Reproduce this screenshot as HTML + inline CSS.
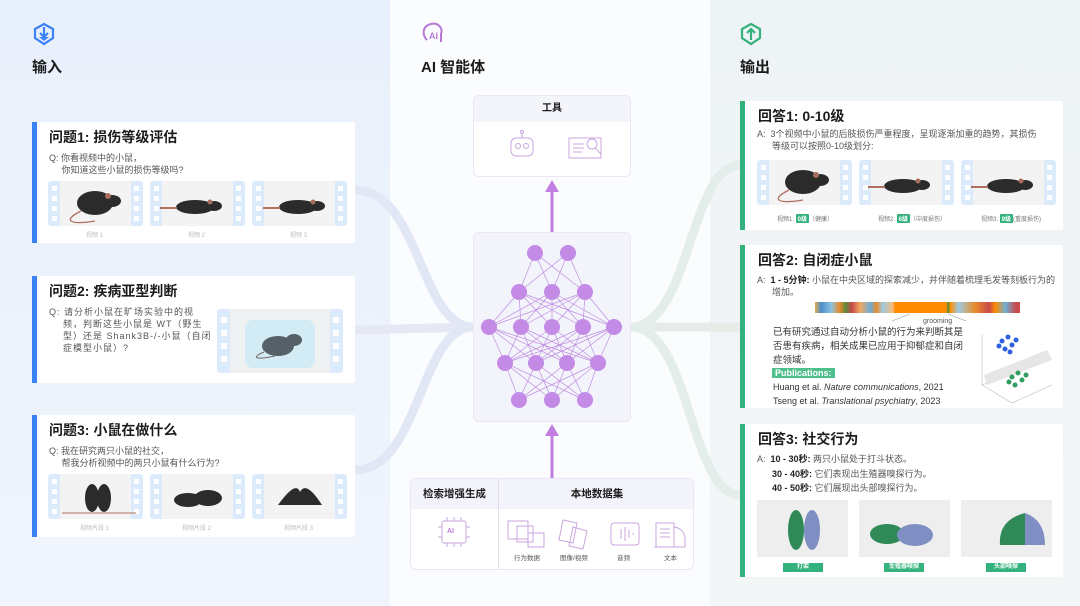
<!DOCTYPE html>
<html><head><meta charset="utf-8">
<style>
*{margin:0;padding:0;box-sizing:border-box}
body{width:1080px;height:606px;overflow:hidden;background:#f6f8fd;font-family:"Liberation Sans","Noto Sans CJK SC",sans-serif;color:#1c1c1c;position:relative}
.a{position:absolute}
.card{position:absolute;background:#fff;border-radius:2px}
.bb{position:absolute;left:0;top:0;bottom:0;width:5px;background:#3b82f6}
.gb{position:absolute;left:0;top:0;bottom:0;width:5px;background:#34b27d}
.t{position:absolute;font-weight:bold;font-size:14px;white-space:nowrap}
.s{position:absolute;font-size:9px;color:#555;white-space:nowrap;line-height:12px}
.cap{position:absolute;font-size:6px;color:#bbb;white-space:nowrap}
.gt{display:inline-block;background:#34b27d;color:#fff;font-weight:bold;padding:0 2px;border-radius:1px}
.tag{position:absolute;background:#34b27d;color:#fff;font-size:6px;text-align:center;height:9px;line-height:9px;font-weight:bold}
</style></head><body>
<div class="a" style="left:0;top:0;width:390px;height:606px;background:linear-gradient(#e8f0fb,#f0f5fd)"></div>
<div class="a" style="left:710px;top:0;width:370px;height:606px;background:linear-gradient(#eef3f6,#f3f6f7)"></div>
<div class="a" style="left:390px;top:0;width:320px;height:606px;background:#fbfcfe"></div>

<svg class="a" style="left:0;top:0" width="1080" height="606">
 <g fill="none" stroke-width="9" stroke-linecap="round">
  <path d="M355 190 C420 190,420 327,473 327" stroke="#e2e7f6"/>
  <path d="M355 330 L473 327" stroke="#e6e8f5"/>
  <path d="M355 470 C420 470,420 327,473 327" stroke="#e2e7f6"/>
  <path d="M631 327 C690 327,690 165,740 165" stroke="#e3ede9"/>
  <path d="M631 327 L740 327" stroke="#e6ede9"/>
  <path d="M631 327 C690 327,690 495,740 495" stroke="#e3ede9"/>
 </g>
</svg>

<!-- headers -->
<svg class="a" style="left:33px;top:22px" width="22" height="24"><path d="M11 2 L20 7 V16 L11 22 L2 16 V7 Z" fill="none" stroke="#3b82f6" stroke-width="2.2"/><path d="M11 5 V14 M7 11 L11 15 L15 11" stroke="#3b82f6" stroke-width="2.2" fill="none"/><path d="M6 15 L11 19 L16 15Z" fill="#3b82f6"/></svg>
<div class="t" style="left:32px;top:56px;font-size:15px">输入</div>
<svg class="a" style="left:421px;top:20px" width="24" height="26"><path d="M6 20 C1 15,1 6,10 4 C18 2,22 9,20 14 L20 22" fill="none" stroke="#b67ad4" stroke-width="2"/><text x="8" y="19" font-size="9" font-weight="bold" fill="#b67ad4" font-family="Liberation Sans">AI</text></svg>
<div class="t" style="left:421px;top:56px;font-size:15px">AI 智能体</div>
<svg class="a" style="left:740px;top:22px" width="22" height="24"><path d="M11 2 L20 7 V16 L11 22 L2 16 V7 Z" fill="none" stroke="#34b27d" stroke-width="2.2"/><path d="M11 18 V8 M7 11 L11 7 L15 11" stroke="#34b27d" stroke-width="2.2" fill="none"/></svg>
<div class="t" style="left:740px;top:56px;font-size:15px">输出</div>

<!-- left cards -->
<div class="card" style="left:32px;top:122px;width:323px;height:121px"><div class="bb"></div>
 <div class="t" style="left:17px;top:5px">问题1: 损伤等级评估</div>
 <div class="s" style="left:17px;top:30px">Q: 你看视频中的小鼠，<br>&nbsp;&nbsp;&nbsp;&nbsp;&nbsp;你知道这些小鼠的损伤等级吗?</div>
</div>
<div class="card" style="left:32px;top:276px;width:323px;height:107px"><div class="bb"></div>
 <div class="t" style="left:17px;top:5px">问题2: 疾病亚型判断</div>
 <div class="s" style="left:17px;top:30px;letter-spacing:1px">Q: 请分析小鼠在旷场实验中的视<br>&nbsp;&nbsp;&nbsp;&nbsp;频，判断这些小鼠是 WT（野生<br>&nbsp;&nbsp;&nbsp;&nbsp;型）还是 Shank3B-/-小鼠（自闭<br>&nbsp;&nbsp;&nbsp;&nbsp;症模型小鼠）?</div>
</div>
<div class="card" style="left:32px;top:415px;width:323px;height:122px"><div class="bb"></div>
 <div class="t" style="left:17px;top:5px">问题3: 小鼠在做什么</div>
 <div class="s" style="left:17px;top:30px">Q: 我在研究两只小鼠的社交，<br>&nbsp;&nbsp;&nbsp;&nbsp;&nbsp;帮我分析视频中的两只小鼠有什么行为?</div>
</div>

<!-- right cards -->
<div class="card" style="left:740px;top:101px;width:323px;height:129px"><div class="gb"></div>
 <div class="t" style="left:18px;top:5px">回答1: 0-10级</div>
 <div class="s" style="left:17px;top:27px">A:&nbsp; 3个视频中小鼠的后肢损伤严重程度，呈现逐渐加重的趋势，其损伤<br>&nbsp;&nbsp;&nbsp;&nbsp;&nbsp;&nbsp;等级可以按照0-10级划分:</div>
 <div class="cap" style="left:37px;top:113px;color:#777">视频1: <span class="gt">0级</span>（健康）</div>
 <div class="cap" style="left:138px;top:113px;color:#777">视频2: <span class="gt">6级</span>（中度损伤）</div>
 <div class="cap" style="left:241px;top:113px;color:#777">视频3: <span class="gt">9级</span>(重度损伤)</div>
</div>
<div class="card" style="left:740px;top:245px;width:323px;height:163px"><div class="gb"></div>
 <div class="t" style="left:18px;top:5px">回答2: 自闭症小鼠</div>
 <div class="s" style="left:17px;top:29px">A:&nbsp; <b style="color:#222">1 - 5分钟:</b> 小鼠在中央区域的探索减少，并伴随着梳理毛发等刻板行为的<br>&nbsp;&nbsp;&nbsp;&nbsp;&nbsp;&nbsp;增加。</div>
 <div class="a" style="left:75px;top:57px;width:205px;height:11px;background:linear-gradient(90deg,#e7a94c 0%,#4a8ec9 3%,#8fc1e0 8%,#e88c2a 12%,#5b8a3a 15%,#c94a4a 18%,#f0a860 22%,#6baed6 27%,#e88c2a 30%,#9ecae1 33%,#f5b979 38%,#ff8c00 39%,#ff8c00 64%,#4a8a3a 65%,#ff8c00 66%,#9ecae1 70%,#e88c2a 78%,#c94a4a 85%,#ff8c00 88%,#6baed6 93%,#c94a4a 98%)"></div>
 <svg class="a" style="left:150px;top:68px" width="80" height="10"><path d="M2 8 L20 1 M58 1 L76 8" stroke="#999" stroke-width=".6"/></svg>
 <div class="s" style="left:183px;top:71px;font-size:7px">grooming</div>
 <div class="s" style="left:33px;top:81px;font-size:9.5px;line-height:14px;color:#333">已有研究通过自动分析小鼠的行为来判断其是<br>否患有疾病，相关成果已应用于抑郁症和自闭<br>症领域。</div>
 <div class="a" style="left:32px;top:123px;background:#4fbf8c;color:#fff;font-size:9px;font-weight:bold;padding:0 3px;line-height:10px">Publications:</div>
 <div class="s" style="left:33px;top:135px;font-size:9px;line-height:14px;color:#333">Huang et al. <i>Nature communications</i>, 2021<br>Tseng et al. <i>Translational psychiatry</i>, 2023</div>
 <svg class="a" style="left:232px;top:80px" width="85" height="82"><path d="M10 10 V60 L40 78 L80 60 M10 60 L50 45" stroke="#bbb" fill="none" stroke-width=".6"/><path d="M12 50 L75 25 L80 35 L15 60Z" fill="#e6e6e6"/>
 <g fill="#2f5fe0"><circle cx="30" cy="16" r="2.5"/><circle cx="36" cy="12" r="2.5"/><circle cx="40" cy="20" r="2.5"/><circle cx="33" cy="24" r="2.5"/><circle cx="27" cy="21" r="2.5"/><circle cx="38" cy="27" r="2.5"/><circle cx="44" cy="15" r="2.5"/></g>
 <g fill="#2f9e5e"><circle cx="40" cy="52" r="2.5"/><circle cx="46" cy="48" r="2.5"/><circle cx="50" cy="55" r="2.5"/><circle cx="43" cy="60" r="2.5"/><circle cx="37" cy="57" r="2.5"/><circle cx="54" cy="50" r="2.5"/></g></svg>
</div>
<div class="card" style="left:740px;top:424px;width:323px;height:153px"><div class="gb"></div>
 <div class="t" style="left:18px;top:5px">回答3: 社交行为</div>
 <div class="s" style="left:17px;top:28px;line-height:14.5px">A:&nbsp; <b style="color:#222">10 - 30秒:</b> 两只小鼠处于打斗状态。<br>&nbsp;&nbsp;&nbsp;&nbsp;&nbsp;&nbsp;<b style="color:#222">30 - 40秒:</b> 它们表现出生殖器嗅探行为。<br>&nbsp;&nbsp;&nbsp;&nbsp;&nbsp;&nbsp;<b style="color:#222">40 - 50秒:</b> 它们展现出头部嗅探行为。</div>
 <div class="tag" style="left:43px;top:139px;width:40px">打架</div>
 <div class="tag" style="left:144px;top:139px;width:40px">生殖器嗅探</div>
 <div class="tag" style="left:246px;top:139px;width:40px">头部嗅探</div>
</div>

<!-- frames -->
<svg class="a" style="left:0;top:0" width="1080" height="606">
 <defs>
  <g id="fm"><rect width="95" height="45" rx="3" fill="#dcebfb"/><rect x="12" width="71" height="45" fill="#f3f3f3"/>
   <g fill="#fff"><rect x="4" y="5" width="5" height="5"/><rect x="4" y="15" width="5" height="5"/><rect x="4" y="25" width="5" height="5"/><rect x="4" y="35" width="5" height="5"/><rect x="86" y="5" width="5" height="5"/><rect x="86" y="15" width="5" height="5"/><rect x="86" y="25" width="5" height="5"/><rect x="86" y="35" width="5" height="5"/></g></g>
  <g id="m1"><ellipse cx="0" cy="0" rx="18" ry="12" fill="#2b2b2b"/><ellipse cx="17" cy="-2" rx="9" ry="6" fill="#2b2b2b"/><circle cx="13" cy="-7" r="3" fill="#a86d5c"/><path d="M-14 8 C-34 18,-24 22,0 18" stroke="#b07060" fill="none" stroke-width="1.3"/></g>
  <g id="m2"><ellipse cx="0" cy="0" rx="19" ry="7" fill="#2b2b2b"/><ellipse cx="19" cy="-1" rx="8" ry="5" fill="#2b2b2b"/><circle cx="15" cy="-5" r="2.5" fill="#a86d5c"/><path d="M-18 1 L-35 1" stroke="#b07060" stroke-width="2"/></g>
 </defs>
 <g>
  <use href="#fm" x="48" y="181"/><use href="#fm" x="150" y="181"/><use href="#fm" x="252" y="181"/>
  <use href="#m1" x="95" y="203"/><use href="#m2" x="195" y="207"/><use href="#m2" x="298" y="207"/>
  <use href="#fm" x="48" y="474"/><use href="#fm" x="150" y="474"/><use href="#fm" x="252" y="474"/>
  <ellipse cx="92" cy="498" rx="7" ry="14" fill="#2b2b2b"/><ellipse cx="104" cy="498" rx="7" ry="14" fill="#2b2b2b"/><path d="M62 513 H136" stroke="#b07060" stroke-width="1"/>
  <ellipse cx="188" cy="500" rx="14" ry="7" fill="#2b2b2b"/><ellipse cx="208" cy="498" rx="14" ry="8" fill="#2b2b2b"/>
  <path d="M278 505 Q296 480 300 492 Q306 480 322 505Z" fill="#2b2b2b"/>
  <rect x="217" y="309" width="126" height="64" rx="3" fill="#dcebfb"/><rect x="230" y="309" width="100" height="64" fill="#eef0f2"/>
  <g fill="#fff"><rect x="221" y="317" width="6" height="6"/><rect x="221" y="330" width="6" height="6"/><rect x="221" y="343" width="6" height="6"/><rect x="221" y="356" width="6" height="6"/><rect x="333" y="317" width="6" height="6"/><rect x="333" y="330" width="6" height="6"/><rect x="333" y="343" width="6" height="6"/><rect x="333" y="356" width="6" height="6"/></g>
  <rect x="245" y="320" width="70" height="48" rx="8" fill="#d3ebf5"/>
  <ellipse cx="278" cy="346" rx="16" ry="10" fill="#556068"/><ellipse cx="294" cy="340" rx="8" ry="6" fill="#556068"/><path d="M264 352 C250 358,256 360,275 356" stroke="#7a6a66" fill="none"/>
  <use href="#fm" x="757" y="160"/><use href="#fm" x="859" y="160"/><use href="#fm" x="961" y="160"/>
  <use href="#m1" x="803" y="182"/><use href="#m2" x="903" y="186"/><use href="#m2" x="1006" y="186"/>
  <rect x="757" y="500" width="91" height="57" fill="#eeeeee"/><rect x="859" y="500" width="91" height="57" fill="#eeeeee"/><rect x="961" y="500" width="91" height="57" fill="#eeeeee"/>
  <ellipse cx="796" cy="530" rx="8" ry="20" fill="#2f8a58"/><ellipse cx="812" cy="530" rx="8" ry="20" fill="#7f8fc4"/>
  <ellipse cx="887" cy="534" rx="17" ry="10" fill="#2f8a58"/><ellipse cx="915" cy="535" rx="18" ry="11" fill="#7f8fc4"/>
  <path d="M1000 545 Q998 520 1025 513 L1025 545Z" fill="#2f8a58"/><path d="M1025 513 Q1045 520 1045 545 L1025 545Z" fill="#7f8fc4"/>
 </g>
 <g font-size="6" fill="#bbb" font-family="Liberation Sans,Noto Sans CJK SC">
  <text x="86" y="237">视频 1</text><text x="188" y="237">视频 2</text><text x="290" y="237">视频 3</text>
  <text x="80" y="530">视频片段 1</text><text x="182" y="530">视频片段 2</text><text x="284" y="530">视频片段 3</text>
 </g>
</svg>

<!-- middle -->
<div class="a" style="left:473px;top:95px;width:158px;height:82px;background:#fff;border:1px solid #ece6f4;border-radius:6px;overflow:hidden">
 <div style="height:26px;background:#f4f5fb;text-align:center;font-size:10px;font-weight:bold;line-height:26px">工具</div>
 <svg width="158" height="56"><g fill="none" stroke="#c9a6dd" stroke-width="1"><rect x="37" y="16" width="22" height="18" rx="5"/><circle cx="44" cy="24" r="2.5"/><circle cx="52" cy="24" r="2.5"/><path d="M48 16 V11"/><circle cx="48" cy="10" r="1.5"/><rect x="95" y="16" width="32" height="20"/><circle cx="118" cy="22" r="5"/><path d="M121 26 L127 32"/><path d="M99 22 H110 M99 26 H110 M99 30 H108"/></g></svg>
</div>
<div class="a" style="left:473px;top:232px;width:158px;height:190px;background:#f3f4fb;border:1px solid #ece6f4;border-radius:6px"></div>
<svg class="a" style="left:0;top:0" width="1080" height="606">
 <g stroke="#c27de0" stroke-width="3"><path d="M552 232 V190"/><path d="M552 478 V434"/></g>
 <path d="M545 192 L552 180 L559 192Z M545 436 L552 424 L559 436Z" fill="#c27de0"/>
 <g stroke="#bf8ce0" stroke-width=".7">
  <path d="M535 253 L519 292 M535 253 L552 292 M535 253 L585 292 M568 253 L519 292 M568 253 L552 292 M568 253 L585 292"/>
  <path d="M519 292 L489 327 M519 292 L521 327 M519 292 L552 327 M519 292 L583 327 M519 292 L614 327 M552 292 L489 327 M552 292 L521 327 M552 292 L552 327 M552 292 L583 327 M552 292 L614 327 M585 292 L489 327 M585 292 L521 327 M585 292 L552 327 M585 292 L583 327 M585 292 L614 327"/>
  <path d="M489 327 L505 363 M489 327 L536 363 M489 327 L567 363 M489 327 L598 363 M521 327 L505 363 M521 327 L536 363 M521 327 L567 363 M521 327 L598 363 M552 327 L505 363 M552 327 L536 363 M552 327 L567 363 M552 327 L598 363 M583 327 L505 363 M583 327 L536 363 M583 327 L567 363 M583 327 L598 363 M614 327 L505 363 M614 327 L536 363 M614 327 L567 363 M614 327 L598 363"/>
  <path d="M505 363 L519 400 M505 363 L552 400 M505 363 L585 400 M536 363 L519 400 M536 363 L552 400 M536 363 L585 400 M567 363 L519 400 M567 363 L552 400 M567 363 L585 400 M598 363 L519 400 M598 363 L552 400 M598 363 L585 400"/>
 </g>
 <g fill="#c38ae6">
  <circle cx="535" cy="253" r="8"/><circle cx="568" cy="253" r="8"/>
  <circle cx="519" cy="292" r="8"/><circle cx="552" cy="292" r="8"/><circle cx="585" cy="292" r="8"/>
  <circle cx="489" cy="327" r="8"/><circle cx="521" cy="327" r="8"/><circle cx="552" cy="327" r="8"/><circle cx="583" cy="327" r="8"/><circle cx="614" cy="327" r="8"/>
  <circle cx="505" cy="363" r="8"/><circle cx="536" cy="363" r="8"/><circle cx="567" cy="363" r="8"/><circle cx="598" cy="363" r="8"/>
  <circle cx="519" cy="400" r="8"/><circle cx="552" cy="400" r="8"/><circle cx="585" cy="400" r="8"/>
 </g>
</svg>
<div class="a" style="left:410px;top:478px;width:284px;height:92px;background:#fff;border:1px solid #ece6f4;border-radius:6px;overflow:hidden">
 <div style="position:absolute;left:0;top:0;width:284px;height:30px;background:#f3f4fb"></div>
 <div style="position:absolute;left:87px;top:0;width:1px;height:92px;background:#e2dded"></div>
 <div style="position:absolute;left:0;top:0;width:87px;text-align:center;font-size:10.5px;font-weight:bold;line-height:30px">检索增强生成</div>
 <div style="position:absolute;left:88px;top:0;width:196px;text-align:center;font-size:10.5px;font-weight:bold;line-height:30px">本地数据集</div>
 <svg style="position:absolute;left:0;top:30px" width="284" height="62"><g fill="none" stroke="#c9a6dd" stroke-width="1">
  <rect x="31" y="12" width="24" height="22" rx="2"/><path d="M36 12 V8 M43 12 V8 M50 12 V8 M36 34 V38 M43 34 V38 M50 34 V38 M31 18 H27 M31 28 H27 M55 18 H59 M55 28 H59"/>
  <rect x="97" y="12" width="20" height="18"/><rect x="106" y="17" width="16" height="16"/><rect x="117" y="24" width="16" height="14"/>
  <path d="M152 11 L166 14 L162 34 L148 31Z"/><path d="M162 18 L176 22 L172 40 L158 37Z"/>
  <rect x="200" y="14" width="28" height="22" rx="3"/><path d="M206 25 V25 M210 20 V30 M214 18 V32 M218 21 V29 M222 24 V26"/>
  <rect x="245" y="14" width="18" height="24"/><path d="M249 20 H259 M249 24 H259 M249 28 H259"/><path d="M263 18 A12 12 0 0 1 274 30 V38 H243"/>
 </g>
 <text x="36" y="24" font-size="7" font-weight="bold" fill="#c27de0" font-family="Liberation Sans">AI</text>
 <g font-size="6.5" fill="#555" font-family="Liberation Sans,Noto Sans CJK SC"><text x="103" y="51">行为数据</text><text x="149" y="51">图像/视频</text><text x="206" y="51">音频</text><text x="253" y="51">文本</text></g></svg>
</div>
</body></html>
